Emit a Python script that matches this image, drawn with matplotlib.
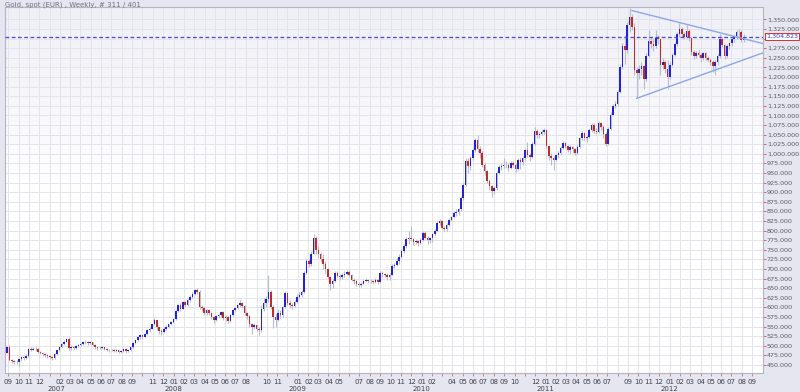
import numpy as np
import pandas as pd
import matplotlib
matplotlib.use("Agg")
import matplotlib.pyplot as plt
import matplotlib.dates as mdates
import matplotlib.transforms as mtransforms
from matplotlib.ticker import FuncFormatter

# weekly candles, first week starts 2006-08-28
dates = pd.date_range("2006-08-28", periods=311, freq="7D")
first_open = 482

closes = [
    496, 463, 460, 457, 459, 465, 470, 467, 474, 492, 490, 493, 491, 484, 482, 479, 476, 473, 470, 467,
    478, 488, 496, 504, 511, 517, 494, 497, 494, 499, 502, 506, 509, 511, 507, 509, 502, 496, 494, 495,
    497, 492, 489, 488, 490, 486, 488, 485, 486, 492, 487, 490, 496,
    508, 515, 522, 528, 524, 530, 541, 545, 556, 567, 548, 538, 535, 545, 548, 556, 562, 570, 590, 606,
    597, 614, 606, 618, 628, 635, 645, 641, 600, 598, 585, 593, 586, 575, 568, 577, 580, 587, 572, 575,
    565, 580, 592, 598, 605, 612, 603, 585, 578, 557, 550, 555, 545, 540,
    595, 612, 622, 640, 600, 575, 568, 585, 580, 600, 637, 612, 606, 603, 615, 628, 632, 640, 690, 720,
    712, 740, 780, 750, 740, 725, 712, 700, 680, 660, 668, 690, 682, 678, 685, 688, 692, 685, 672, 668,
    660, 658, 662, 668, 672, 668, 670, 666, 672, 666, 690, 688, 685, 678, 685, 708, 710,
    720, 730, 748, 760, 778, 782, 778, 770, 772, 768, 775, 795, 782, 775, 780, 790, 800, 820, 825, 808,
    805, 815, 828, 835, 845, 848, 856, 885, 920, 980, 968, 990, 1010, 1036, 1012, 1002, 972, 955, 930, 915,
    902, 910, 950, 965, 968, 972, 970, 962, 975, 970, 960, 985, 978, 990,
    1010, 998, 992, 1025, 1060, 1048, 1052, 1058, 1062, 1020, 995, 990, 985, 996, 1002, 1015, 1028, 1020,
    1010, 1018, 1012, 1003, 1018, 1040, 1055, 1040, 1045, 1062, 1075, 1060, 1058, 1080, 1070, 1052, 1025,
    1065, 1100, 1125, 1130, 1160, 1225, 1280, 1270, 1335, 1355, 1330, 1218, 1210,
    1222, 1228, 1195, 1255, 1295, 1285, 1280, 1302, 1298, 1230, 1238, 1222, 1200, 1232, 1258, 1285, 1312,
    1325, 1312, 1305, 1320, 1302, 1265, 1255, 1262, 1258, 1250, 1262, 1250, 1245, 1238, 1228, 1240, 1255,
    1300, 1283, 1255, 1280, 1288, 1298, 1306, 1316, 1318, 1296, 1304.823,
]
highs = [
    499, 501, 466, 463, 464, 468, 474, 474, 478, 495, 496, 497, 496, 494, 487, 484, 481, 479, 476, 474,
    481, 490, 499, 507, 514, 520, 522, 501, 500, 503, 505, 508, 512, 514, 513, 512, 511, 505, 498, 499,
    500, 498, 494, 492, 493, 492, 491, 490, 489, 494, 494, 493, 498,
    510, 518, 525, 531, 531, 533, 544, 549, 558, 572, 567, 550, 544, 548, 554, 558, 564, 573, 594, 610,
    612, 617, 616, 622, 632, 640, 648, 650, 645, 606, 600, 597, 596, 588, 577, 580, 584, 591, 590, 579,
    578, 583, 596, 602, 610, 618, 614, 605, 588, 580, 560, 560, 557, 550,
    605, 625, 630, 685, 645, 605, 585, 595, 592, 604, 642, 638, 618, 612, 620, 634, 640, 646, 695, 726,
    725, 748, 792, 785, 760, 745, 740, 720, 703, 682, 675, 695, 694, 688, 690, 695, 698, 697, 688, 676,
    672, 666, 666, 671, 676, 675, 675, 672, 676, 674, 695, 695, 690, 690, 690, 712, 716,
    728, 738, 752, 765, 784, 800, 812, 782, 778, 775, 780, 800, 798, 785, 784, 795, 804, 825, 830, 828,
    812, 819, 833, 838, 850, 855, 860, 890, 925, 990, 988, 995, 1015, 1042, 1049, 1020, 1008, 975, 958, 935,
    918, 915, 955, 972, 975, 988, 980, 975, 980, 982, 975, 990, 992, 995,
    1014, 1030, 1003, 1030, 1070, 1065, 1058, 1062, 1066, 1064, 1022, 1002, 995, 1000, 1008, 1020, 1033, 1032,
    1022, 1022, 1020, 1015, 1022, 1044, 1060, 1058, 1050, 1068, 1080, 1080, 1068, 1085, 1084, 1075, 1058,
    1070, 1108, 1130, 1138, 1165, 1235, 1288, 1310, 1342, 1380, 1365, 1340, 1225,
    1232, 1238, 1232, 1262, 1322, 1305, 1300, 1322, 1310, 1300, 1250, 1245, 1244, 1238, 1262, 1290, 1318,
    1340, 1330, 1318, 1336, 1325, 1305, 1270, 1268, 1270, 1262, 1266, 1265, 1255, 1250, 1245, 1244, 1260,
    1312, 1305, 1285, 1286, 1292, 1302, 1310, 1322, 1325, 1322, 1312,
]
lows = [
    480, 461, 455, 452, 453, 446, 460, 463, 465, 472, 486, 488, 487, 481, 478, 474, 472, 468, 466, 464,
    465, 476, 486, 494, 502, 509, 490, 490, 489, 493, 496, 499, 503, 505, 503, 504, 499, 493, 490, 491,
    492, 489, 486, 484, 486, 483, 483, 481, 480, 484, 482, 484, 486,
    494, 506, 513, 519, 521, 522, 528, 537, 543, 553, 540, 532, 528, 533, 540, 546, 553, 560, 568, 588,
    590, 595, 600, 603, 615, 624, 632, 635, 596, 590, 580, 580, 580, 570, 560, 565, 572, 576, 568, 565,
    560, 562, 578, 588, 595, 600, 598, 580, 570, 550, 530, 545, 538, 528,
    535, 590, 600, 615, 595, 546, 550, 565, 572, 576, 598, 605, 598, 596, 600, 612, 622, 628, 638, 688,
    705, 708, 738, 740, 728, 718, 700, 690, 675, 645, 650, 665, 678, 672, 675, 680, 684, 680, 668, 662,
    655, 652, 652, 660, 665, 663, 664, 660, 664, 662, 664, 680, 680, 672, 672, 684, 702,
    708, 712, 728, 742, 756, 765, 772, 762, 764, 760, 765, 772, 778, 766, 768, 770, 785, 800, 815, 804,
    798, 800, 812, 825, 832, 838, 840, 852, 880, 915, 950, 958, 985, 1005, 1005, 990, 965, 945, 925, 905,
    888, 895, 905, 948, 958, 962, 964, 956, 960, 965, 952, 958, 960, 972,
    985, 992, 982, 990, 1022, 1040, 1042, 1048, 1052, 1015, 985, 972, 958, 982, 990, 998, 1012, 1015,
    1005, 1000, 1002, 998, 1000, 1015, 1036, 1035, 1030, 1042, 1058, 1055, 1052, 1055, 1062, 1040, 1020,
    1022, 1062, 1100, 1118, 1125, 1158, 1220, 1235, 1262, 1318, 1322, 1205, 1145,
    1195, 1205, 1170, 1190, 1252, 1275, 1268, 1275, 1285, 1205, 1220, 1210, 1170, 1195, 1228, 1255, 1280,
    1305, 1305, 1298, 1302, 1295, 1258, 1248, 1250, 1252, 1240, 1245, 1245, 1238, 1232, 1212, 1205, 1232,
    1250, 1278, 1248, 1250, 1272, 1282, 1292, 1300, 1308, 1290, 1292,
]

last_price = 1304.823
tri_upper_dates = ["2011-09-12", "2012-10-02"]
tri_upper_vals = [1373, 1287]
tri_lower_dates = ["2011-09-26", "2012-10-02"]
tri_lower_vals = [1144.5, 1263]

hidden_months = ["2007-01", "2007-10", "2008-09", "2008-12", "2009-06", "2010-03", "2010-11", "2011-08"]
year_labels = ["2007", "2008", "2009", "2010", "2011", "2012"]
year_dates = ["2007-01-20", "2008-01-01", "2009-01-01", "2010-01-01", "2011-01-01", "2012-01-01"]

opens = [first_open] + closes[:-1]
o = np.array(opens, dtype=float)
c = np.array(closes, dtype=float)
h = np.array(highs, dtype=float)
l = np.array(lows, dtype=float)
xd = mdates.date2num(dates)

fig = plt.figure(figsize=(8, 3.92), dpi=100, facecolor="#e6e6f0")
ax = fig.add_axes([5 / 800, 1 - 373 / 392, 758 / 800, 366 / 392])
ax.set_facecolor("white")

# soft lavender tint at the top of the plot
grad = np.linspace(0, 1, 256).reshape(-1, 1)
ax.imshow(grad, extent=[0, 1, 0, 1], transform=ax.transAxes, aspect="auto",
          cmap=matplotlib.colors.LinearSegmentedColormap.from_list("g", ["#efeff6", "#ffffff", "#ffffff"]),
          zorder=0)

up = c >= o
col = np.where(up, "#2222d8", "#c42a2a")
ax.vlines(xd, l, h, color="#b9bccb", lw=0.8, zorder=2)
body = np.maximum(np.abs(c - o), 1.5)
ax.bar(xd, body, bottom=np.minimum(o, c), width=4.6, color=col, linewidth=0, zorder=3)

ax.axhline(last_price, color="#4848d8", lw=0.9, ls=(0, (3, 2)), zorder=4)
ax.plot(mdates.date2num(pd.to_datetime(tri_upper_dates)), tri_upper_vals, color="#8ca6ec", lw=1.0, zorder=4)
ax.plot(mdates.date2num(pd.to_datetime(tri_lower_dates)), tri_lower_vals, color="#8ca6ec", lw=1.0, zorder=4)

ax.set_xlim(mdates.date2num(pd.Timestamp("2006-08-22")), mdates.date2num(pd.Timestamp("2012-10-02")))
ax.set_ylim(429.2, 1382.3)

# y axis (the 1,300 label sits under the price box)
ax.yaxis.tick_right()
ax.set_yticks(np.arange(450, 1351, 25))
ax.yaxis.set_major_formatter(FuncFormatter(lambda v, p: "" if abs(v - 1300) < 1 else f"{v:,.3f}"))
ax.tick_params(axis="y", length=2, width=0.6, color="#d05050", labelsize=4.6,
               labelcolor="#5a5a6a", pad=0.8)

# x axis
months = pd.date_range("2006-09-01", "2012-09-01", freq="MS")
mlabels = ["" if m.strftime("%Y-%m") in hidden_months else m.strftime("%m") for m in months]
ax.set_xticks(mdates.date2num(months))
ax.set_xticklabels(mlabels)
ax.tick_params(axis="x", length=2, width=0.6, color="#d07070", labelsize=5,
               labelcolor="#404050", pad=2)
trans = mtransforms.blended_transform_factory(ax.transData, ax.transAxes)
for yl, yd in zip(year_labels, year_dates):
    ax.text(mdates.date2num(pd.Timestamp(yd)), -0.036, yl, transform=trans, ha="center", va="top",
            fontsize=5, color="#404050")

ax.grid(True, color="#e4e4ec", lw=0.7, zorder=1)
ax.set_axisbelow(True)
for s in ax.spines.values():
    s.set_color("#b4b4c6")
    s.set_linewidth(0.8)

ax.text(1.004, last_price, f"{last_price:,.3f}",
        transform=mtransforms.blended_transform_factory(ax.transAxes, ax.transData),
        ha="left", va="center", fontsize=4.6, color="#3838c8", zorder=6,
        bbox=dict(boxstyle="square,pad=0.12", fc="white", ec="#d83030", lw=0.7))

fig.text(5 / 800, 1 - 5 / 392, "Gold, spot (EUR) , Weekly, # 311 / 401", ha="left", va="center",
         fontsize=5, color="#707080")

fig.savefig("out.png", dpi=100, facecolor=fig.get_facecolor())
